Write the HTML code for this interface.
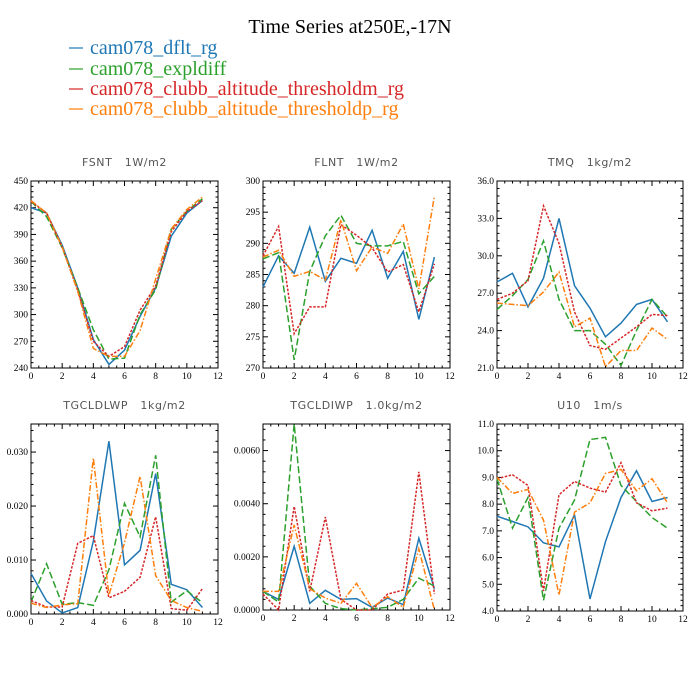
<!DOCTYPE html>
<html><head><meta charset="utf-8"><style>
body{margin:0;background:#fff;}
svg{display:block;}
text{white-space:pre;}
</style></head><body>
<svg id="chart" width="700" height="700" xmlns="http://www.w3.org/2000/svg">
<text x="350" y="33" text-anchor="middle" font-family="Liberation Serif, serif" font-size="20">Time Series at250E,-17N</text>
<g font-family="Liberation Serif, serif" font-size="20">
<g><line x1="69" y1="48" x2="83" y2="48" stroke="#1f77b4" stroke-width="1.2"/><text x="90" y="54" fill="#1f77b4">cam078_dflt_rg</text></g>
<g><line x1="69" y1="69" x2="83" y2="69" stroke="#2ca02c" stroke-width="1.2"/><text x="90" y="75" fill="#2ca02c">cam078_expldiff</text></g>
<g><line x1="69" y1="89" x2="83" y2="89" stroke="#d62728" stroke-width="1.2"/><text x="90" y="95" fill="#d62728">cam078_clubb_altitude_thresholdm_rg</text></g>
<g><line x1="69" y1="109" x2="83" y2="109" stroke="#ff7f0e" stroke-width="1.2"/><text x="90" y="115" fill="#ff7f0e">cam078_clubb_altitude_thresholdp_rg</text></g>
</g>
</svg>
<script>
const months=[0,1,2,3,4,5,6,7,8,9,10,11];
const xTicks=[0,2,4,6,8,10,12];
// FSNT
const fsntDflt=[420,414,378,330,272,244,260,298,330,388,414,428];
const fsntExpl=[427,410,375,330,283,250,251,300,328,396,416,430];
const fsntTm=[427,414,376,327,270,253,264,305,332,393,416,428];
const fsntTp=[428,414,376,326,262,253,253,282,340,396,418,432];
const fsntTicks=[240,270,300,330,360,390,420,450];
// FLNT
const flntDflt=[283,288,285.2,292.6,283.9,287.6,286.8,292.1,284.4,288.7,277.8,287.8];
const flntExpl=[287.5,288.5,271.3,285.5,291.2,294.5,290,289.6,289.6,290.3,281.9,284.7];
const flntTm=[288,292.7,275.5,279.8,279.8,293,291.3,289.3,285.4,286.6,279,286.7];
const flntTp=[287.8,288.9,284.7,285.5,284.1,293.8,285.6,289.4,288.4,293.1,282.7,297.6];
const flntTicks=[270,275,280,285,290,295,300];
// TMQ
const tmqDflt=[27.9,28.6,25.9,28.2,33.0,27.6,25.8,23.5,24.6,26.1,26.5,24.7];
const tmqExpl=[25.7,26.8,28.1,31.2,26.5,24.0,24.0,22.9,21.2,24.0,26.5,25.1];
const tmqTm=[26.5,27.0,28.0,34.0,31.0,25.5,22.8,22.5,23.4,24.3,25.3,25.2];
const tmqTp=[26.2,26.1,26.0,27.1,28.7,24.3,25.0,21.1,22.4,22.4,24.2,23.3];
const tmqTicks=[21,24,27,30,33,36];
// TGCLDLWP
const lwpDflt=[.0075,.0024,.0002,.0012,.0135,.032,.0091,.0118,.026,.0055,.0045,.0012];
const lwpExpl=[.0022,.0093,.0018,.0021,.0016,.0082,.0205,.0143,.0294,.0022,.0043,.0021];
const lwpTm=[.0025,.0013,.0013,.0131,.0145,.003,.0042,.0068,.018,.001,.0007,.0047];
const lwpTp=[.002,.0012,.0017,.0019,.0289,.0035,.0132,.0255,.0071,.0025,.0012,.0005];
const lwpTicks=[0,0.01,0.02,0.03];
// TGCLDIWP
const iwpDflt=[.0007,.0004,.0024,.00025,.00074,.0004,.00043,.0001,.00045,.0002,.0027,.0008];
const iwpExpl=[.0007,.0003,.0070,.0009,.00025,.00005,0,.00005,.0001,.0004,.0012,.0009];
const iwpTm=[.0006,0,.0039,.0007,.0035,.0004,0,0,.0006,.00075,.0052,.0006];
const iwpTp=[.0007,.0007,.0032,.0008,.00045,.00025,.001,.0001,.0005,.0001,.0023,0];
const iwpTicks=[0,0.002,0.004,0.006];
// U10
const u10Dflt=[7.55,7.35,7.15,6.55,6.4,7.6,4.45,6.6,8.25,9.25,8.1,8.25];
const u10Expl=[8.95,7.1,8.25,4.4,7.1,8.15,10.42,10.5,8.7,8.1,7.5,7.1];
const u10Tm=[8.95,9.1,8.7,4.75,8.35,8.85,8.6,8.45,9.55,8.05,7.75,7.85];
const u10Tp=[9.0,8.4,8.55,7.4,4.6,7.7,8.05,9.15,9.3,8.5,8.95,8.05];
const u10Ticks=[4,5,6,7,8,9,10,11];

const NS='http://www.w3.org/2000/svg';
const svg=document.getElementById('chart');
const styles=[{c:'#1f77b4',d:''},{c:'#2ca02c',d:'7,3'},{c:'#d62728',d:'2.5,1.5'},{c:'#ff7f0e',d:'6,2,1.5,2'}];
const snames=['dflt','expldiff','thresholdm','thresholdp'];
function mk(tag,attrs,parent){const e=document.createElementNS(NS,tag);for(const k in attrs)e.setAttribute(k,attrs[k]);parent.appendChild(e);return e;}
function panel(id,title,x0,y0,w,h,ymin,ymax,yticks,fmt,series){
  const g=mk('g',{},svg);
  
  
  const sx=v=>x0+v/12*w, sy=v=>y0+h-(v-ymin)/(ymax-ymin)*h;
  const t=mk('text',{x:x0+w/2,y:y0-15,'text-anchor':'middle','font-family':'DejaVu Sans, sans-serif','font-size':'11',fill:'#555','letter-spacing':'0.6'},g);
  t.textContent=title;
  
  
  const ax=mk('g',{stroke:'#000','stroke-width':'1',fill:'none'},g);
  
  
  mk('rect',{x:x0,y:y0,width:w,height:h},ax);
  for(let v=0;v<=12;v+=0.5){const X=sx(v),L=(v%2===0)?5:2.5;
    mk('line',{x1:X,y1:y0+h,x2:X,y2:y0+h-L},ax);mk('line',{x1:X,y1:y0,x2:X,y2:y0+L},ax);}
  xTicks.forEach(v=>{const tx=mk('text',{x:sx(v),y:y0+h+11,'text-anchor':'middle','font-family':'Liberation Serif, serif','font-size':'9.5',fill:'#000'},g);tx.textContent=v;
    
    });
  const step=yticks[1]-yticks[0];
  for(let i=0;i<yticks.length;i++){
    const v=yticks[i],Y=sy(v);
    mk('line',{x1:x0,y1:Y,x2:x0+5,y2:Y},ax);mk('line',{x1:x0+w,y1:Y,x2:x0+w-5,y2:Y},ax);
    for(let k=1;k<5;k++){const vv=v+k*step/5;if(vv>ymax+1e-9)break;const YY=sy(vv);
      mk('line',{x1:x0,y1:YY,x2:x0+2.5,y2:YY},ax);mk('line',{x1:x0+w,y1:YY,x2:x0+w-2.5,y2:YY},ax);}
    const ty=mk('text',{x:x0-3,y:Y+3,'text-anchor':'end','font-family':'Liberation Serif, serif','font-size':'9.5',fill:'#000'},g);ty.textContent=fmt(v);
    
    
  }
  series.forEach((arr,i)=>{
    const p=mk('polyline',{points:arr.map((v,j)=>sx(months[j])+','+sy(v)).join(' '),fill:'none',stroke:styles[i].c,'stroke-width':'1.5','stroke-dasharray':styles[i].d},g);
    
    
  });
}
panel('fsnt','FSNT   1W/m2',31,181,187,187,240,450,fsntTicks,v=>v,[fsntDflt,fsntExpl,fsntTm,fsntTp]);
panel('flnt','FLNT   1W/m2',263,181,187,187,270,300,flntTicks,v=>v,[flntDflt,flntExpl,flntTm,flntTp]);
panel('tmq','TMQ   1kg/m2',497,181,186,187,21,36,tmqTicks,v=>v.toFixed(1),[tmqDflt,tmqExpl,tmqTm,tmqTp]);
panel('tgcldlwp','TGCLDLWP   1kg/m2',31,424,187,190,0,0.0352,lwpTicks,v=>v.toFixed(3),[lwpDflt,lwpExpl,lwpTm,lwpTp]);
panel('tgcldiwp','TGCLDIWP   1.0kg/m2',263,424,187,186,0,0.0070,iwpTicks,v=>v.toFixed(4),[iwpDflt,iwpExpl,iwpTm,iwpTp]);
panel('u10','U10   1m/s',497,424,186,187,4,11,u10Ticks,v=>v.toFixed(1),[u10Dflt,u10Expl,u10Tm,u10Tp]);
</script>
</body></html>
